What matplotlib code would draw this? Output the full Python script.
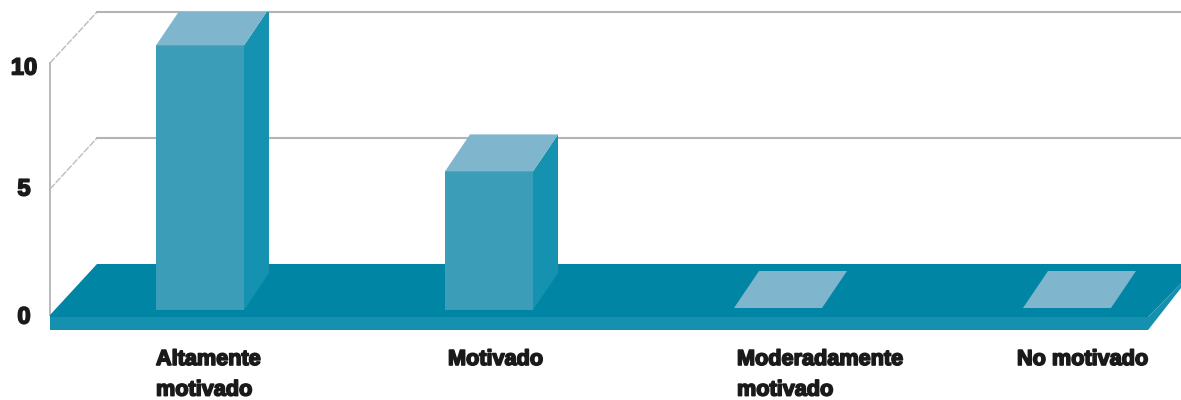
import matplotlib
matplotlib.use("Agg")
import matplotlib.pyplot as plt
from matplotlib.patches import Polygon, Rectangle
import matplotlib.patheffects as pe

categorias = ["Altamente\nmotivado", "Motivado", "Moderadamente\nmotivado", "No motivado"]
valores = [10.5, 5.5, 0, 0]
ticks = [0, 5, 10]

# colores del grafico 3d
C_FRENTE = "#3c9db9"
C_LADO = "#1592af"
C_TECHO = "#7fb6ce"
C_PISO = "#0085a5"
C_BORDE = "#1590ae"
C_GRID = "#b4b4b4"
C_TEXTO = "#1a1a1a"

# escala: 289 px por categoria, 25.2 px por unidad
PX_X = 289.0
PX_Y = 25.2
fig = plt.figure(figsize=(11.81, 4.0), dpi=100)
ax = fig.add_axes([0, 0, 1, 1])
ax.set_xlim(-200 / PX_X, (1181 - 200) / PX_X)
ax.set_ylim(-85 / PX_Y, 315 / PX_Y)
ax.axis("off")

ancho = 88 / PX_X
bar_dx, bar_dy = 25 / PX_X, 37 / PX_Y
base = 5 / PX_Y  # la base de las barras queda un poco detras del cero
muro_x = -150 / PX_X
fin_x = 948 / PX_X
prof_x, prof_y = 47 / PX_X, 51 / PX_Y
x_max = ax.get_xlim()[1]

# paredes y lineas de la grilla
ax.plot([muro_x, muro_x], [0, ticks[-1]], color=C_GRID, lw=1.3, zorder=1)
for t in ticks[1:]:
    ax.plot([muro_x, muro_x + prof_x], [t, t + prof_y], color="#bcbcbc", lw=1, ls=(0, (5, 1)), zorder=1)
    ax.plot([muro_x + prof_x, x_max], [t + prof_y, t + prof_y], color=C_GRID, lw=1.5, zorder=1)

# piso
ax.add_patch(Polygon([(muro_x, 0), (muro_x + prof_x, prof_y), (x_max, prof_y), (x_max, 1.25), (fin_x, -0.08), (muro_x, -0.08)],
                     color=C_PISO, lw=0, zorder=2))
ax.add_patch(Polygon([(fin_x, -0.6), (fin_x, -0.08), (x_max, 1.25), (x_max, 1.07)], color=C_BORDE, lw=0, zorder=2))
ax.add_patch(Rectangle((muro_x, -0.6), fin_x - muro_x, 0.52, color=C_BORDE, lw=0, zorder=2))

# barras
recorte = Rectangle((-1, -4), 6, 4 + (315 - 12) / PX_Y, transform=ax.transData)
izq = [i - 44 / PX_X for i in range(len(valores))]
barras = ax.bar(izq, valores, width=ancho, bottom=base, align="edge", color=C_FRENTE, lw=0, zorder=3)
for x0, v in zip(izq, valores):
    # las barras en cero solo muestran el techo, apenas mas arriba
    arriba = v + base if v > 0 else base + 2 / PX_Y
    x1 = x0 + ancho
    if v > 0:
        lado = Polygon([(x1, base), (x1 + bar_dx, base + bar_dy), (x1 + bar_dx, arriba + bar_dy), (x1, arriba)],
                       color=C_LADO, lw=0, zorder=3)
        ax.add_patch(lado)
        lado.set_clip_path(recorte)
    techo = Polygon([(x0, arriba), (x0 + bar_dx, arriba + bar_dy), (x1 + bar_dx, arriba + bar_dy), (x1, arriba)],
                    color=C_TECHO, lw=0, zorder=4)
    ax.add_patch(techo)
    techo.set_clip_path(recorte)

# textos
efecto = [pe.withStroke(linewidth=1.2, foreground=C_TEXTO)]
ajuste_tick = {0: -2, 5: 0, 10: -5}  # px
for t in ticks:
    ax.text(-176 / PX_X, t + ajuste_tick[t] / PX_Y, str(t), ha="center", va="center", fontsize=17, fontweight="bold",
            family="Liberation Sans", color=C_TEXTO, path_effects=efecto)
ajuste_cat = [0, 3, 3, -6]  # px
for x0, cat, aj in zip(izq, categorias, ajuste_cat):
    ax.text(x0 + aj / PX_X, -34 / PX_Y, cat, ha="left", va="top", fontsize=15.6, fontweight="bold",
            family="Liberation Sans", color=C_TEXTO, linespacing=1.6, path_effects=efecto)

fig.savefig("out.png", dpi=100)
